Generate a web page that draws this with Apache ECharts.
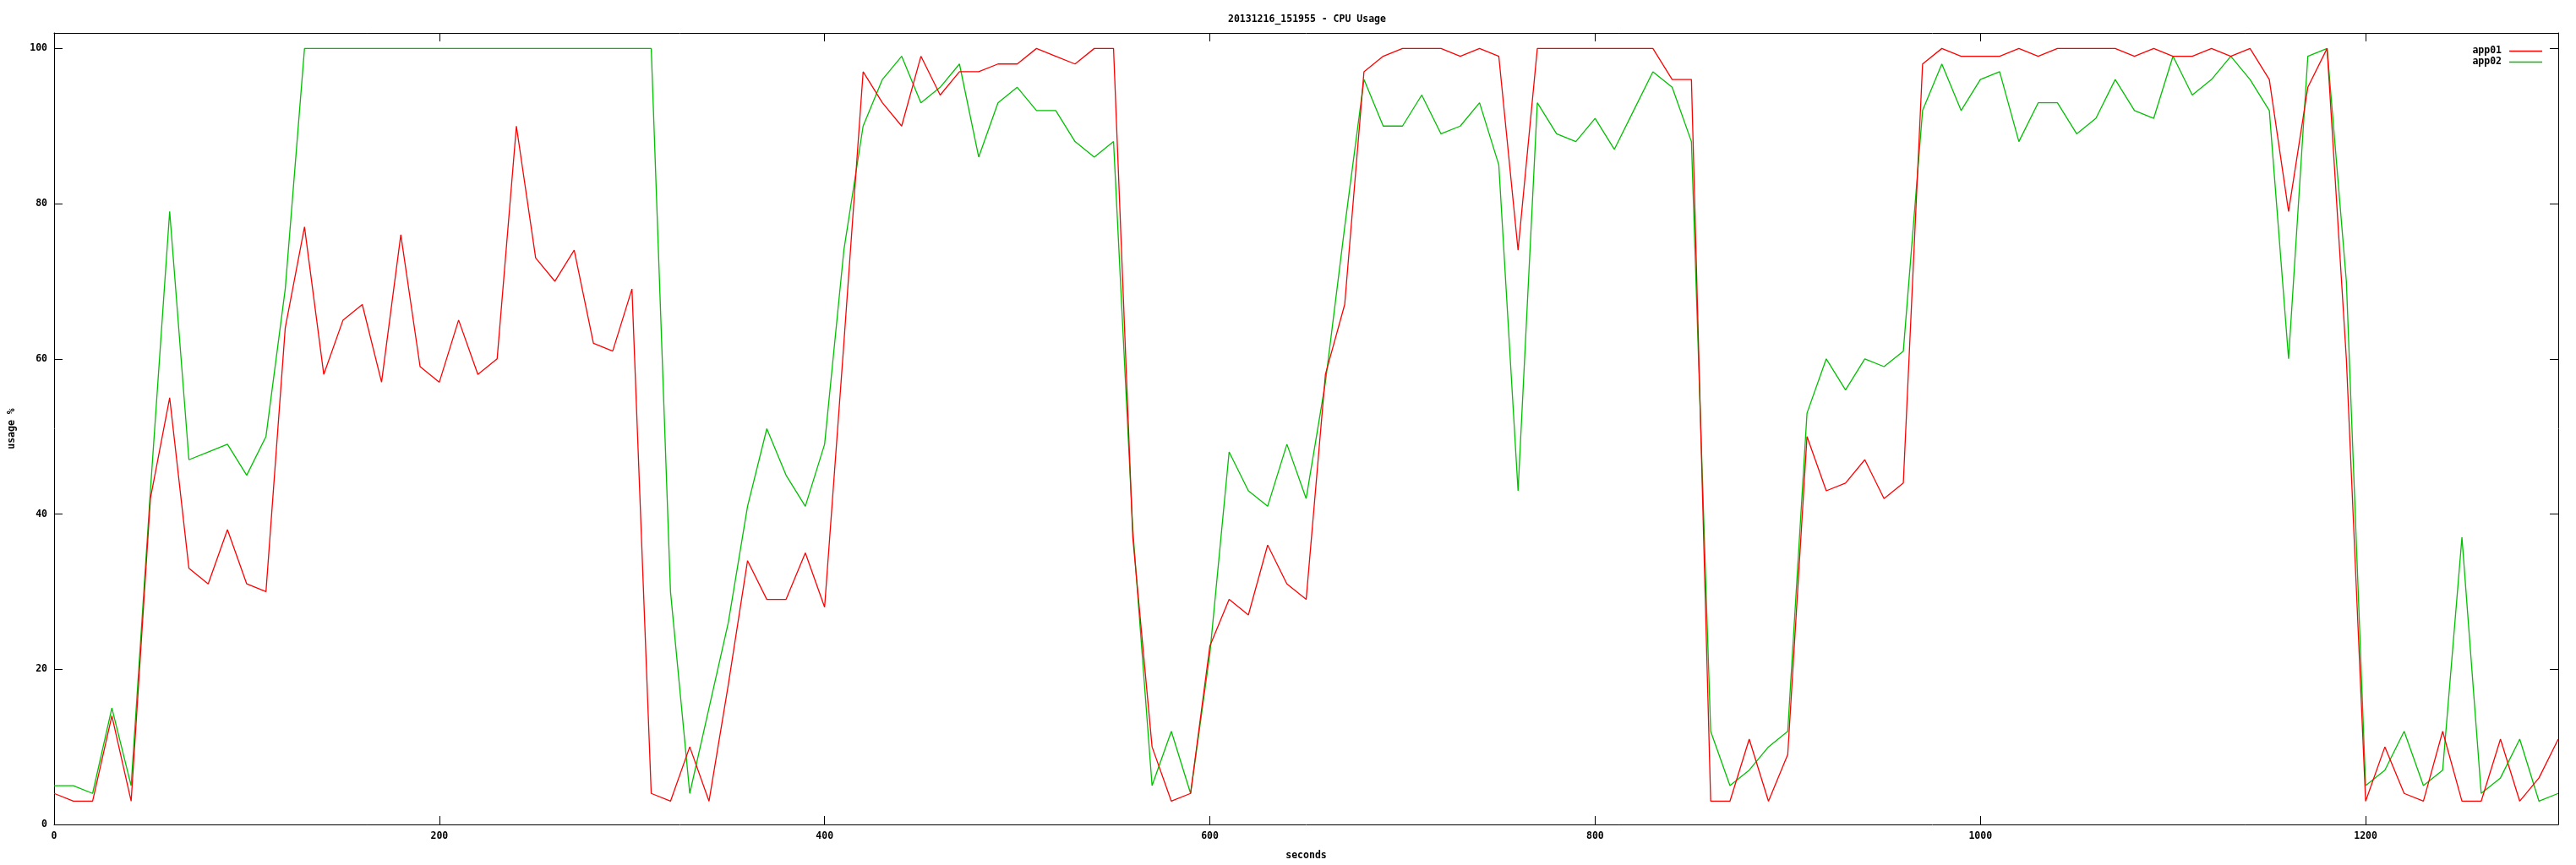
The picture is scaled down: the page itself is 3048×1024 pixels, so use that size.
<!DOCTYPE html>
<html>
<head>
<meta charset="utf-8">
<script src="https://cdn.jsdelivr.net/npm/echarts@6/dist/echarts.min.js"></script>
<style>
html,body{margin:0;padding:0;background:#fff;}
#chart{width:3048px;height:1024px;}
</style>
</head>
<body>
<div id="chart"></div>
<script>
const seconds = [0,10,20,30,40,50,60,70,80,90,100,110,120,130,140,150,160,170,180,190,200,210,220,230,240,250,260,270,280,290,300,310,320,330,340,350,360,370,380,390,400,410,420,430,440,450,460,470,480,490,500,510,520,530,540,550,560,570,580,590,600,610,620,630,640,650,660,670,680,690,700,710,720,730,740,750,760,770,780,790,800,810,820,830,840,850,860,870,880,890,900,910,920,930,940,950,960,970,980,990,1000,1010,1020,1030,1040,1050,1060,1070,1080,1090,1100,1110,1120,1130,1140,1150,1160,1170,1180,1190,1200,1210,1220,1230,1240,1250,1260,1270,1280,1290,1300];

const app01 = [4,3,3,14,3,42,55,33,31,38,31,30,64,77,58,65,67,57,76,59,57,65,58,60,90,73,70,74,62,61,69,4,3,10,3,18,34,29,29,35,28,62,97,93,90,99,94,97,97,98,98,100,99,98,100,100,37,10,3,4,23,29,27,36,31,29,58,67,97,99,100,100,100,99,100,99,74,100,100,100,100,100,100,100,96,96,3,3,11,3,9,50,43,44,47,42,44,98,100,99,99,99,100,99,100,100,100,100,99,100,99,99,100,99,100,96,79,95,100,60,3,10,4,3,12,3,3,11,3,6,11];

const app02 = [5,5,4,15,5,43,79,47,48,49,45,50,69,100,100,100,100,100,100,100,100,100,100,100,100,100,100,100,100,100,100,100,30,4,15,26,41,51,45,41,49,74,90,96,99,93,95,98,86,93,95,92,92,88,86,88,38,5,12,4,22,48,43,41,49,42,57,77,96,90,90,94,89,90,93,85,43,93,89,88,91,87,92,97,95,88,12,5,7,10,12,53,60,56,60,59,61,92,98,92,96,97,88,93,93,89,91,96,92,91,99,94,96,99,96,92,60,99,100,70,5,7,12,5,7,37,4,6,11,3,4];

const xTicks = [0,200,400,600,800,1000,1200];
const yTicks = [0,20,40,60,80,100];
const seriesNames = ['app01','app02'];
const chartTitle = '20131216_151955 - CPU Usage';

const FONT = 'DejaVu Sans Mono';
const txt = {fontFamily: FONT, fontSize: 11.5, fontWeight: 'bold', color: '#000'};

function pairs(vals){ return seconds.map((s,i)=>[s, vals[i]]); }

const chart = echarts.init(document.getElementById('chart'), null, {renderer:'canvas'});

const lineAxis = {show:true, onZero:false, lineStyle:{color:'#000', width:1}};
const tick = {show:true, inside:true, length:10, lineStyle:{color:'#000', width:1}};

chart.setOption({
  animation:false,
  backgroundColor:'#fff',
  title:{
    text: chartTitle,
    left: 1448, top: 12,
    textStyle: Object.assign({}, txt)
  },
  legend:{
    orient:'vertical',
    right: 35, top: 49,
    align:'right',
    icon:'rect',
    itemWidth: 39, itemHeight: 1.5,
    itemGap: 0,
    textStyle: Object.assign({}, txt, {lineHeight:13, padding:[0,4,0,0]}),
    data: seriesNames
  },
  grid:{left:58, right:21, top:39, bottom:42, containLabel:false},
  xAxis:[{
    type:'value', min:0, max:1300, interval:200, position:'bottom',
    name:'seconds', nameLocation:'middle', nameGap:31,
    nameTextStyle: Object.assign({}, txt),
    axisLine: lineAxis, axisTick: tick,
    axisLabel: Object.assign({}, txt, {margin:8, formatter: v => xTicks.includes(v) ? String(v) : ''}),
    splitLine:{show:false}
  },{
    type:'value', min:0, max:1300, interval:200, position:'top',
    axisLine: lineAxis, axisTick: tick, axisLabel:{show:false}, splitLine:{show:false}
  }],
  yAxis:[{
    type:'value', min:0, max:102, interval:20, position:'left',
    name:'usage %', nameLocation:'middle', nameGap:44, nameRotate:90,
    nameTextStyle: Object.assign({}, txt),
    axisLine: lineAxis, axisTick: tick,
    axisLabel: Object.assign({}, txt, {margin:8, formatter: v => yTicks.includes(v) ? String(v) : ''}),
    splitLine:{show:false}
  },{
    type:'value', min:0, max:102, interval:20, position:'right',
    axisLine: lineAxis, axisTick: tick, axisLabel:{show:false}, splitLine:{show:false}
  }],
  series:[{
    name: seriesNames[0], type:'line', data: pairs(app01),
    showSymbol:false, symbol:'none', color:'#ff0000',
    lineStyle:{color:'#ff0000', width:1.3}, z:3
  },{
    name: seriesNames[1], type:'line', data: pairs(app02),
    showSymbol:false, symbol:'none', color:'#00c000',
    lineStyle:{color:'#00c000', width:1.3}, z:2
  }]
});
</script>
</body>
</html>
